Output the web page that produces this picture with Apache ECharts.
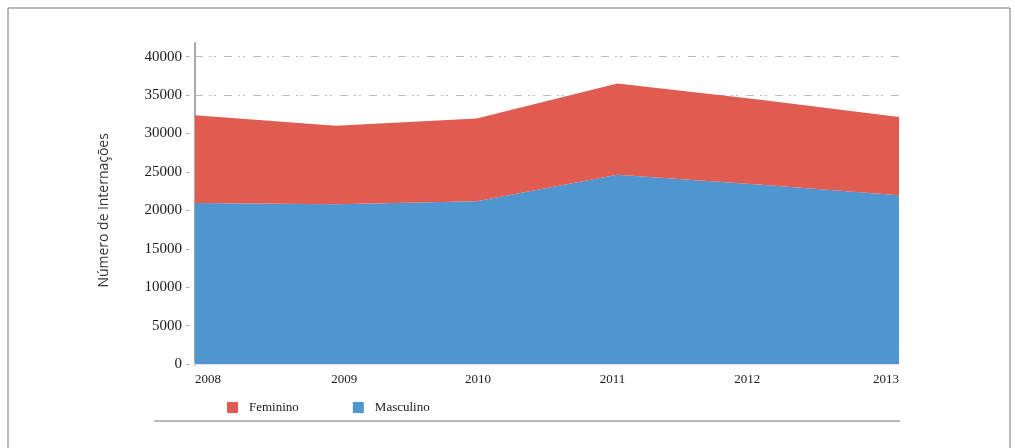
<!DOCTYPE html>
<html>
<head>
<meta charset="utf-8">
<script src="https://cdn.jsdelivr.net/npm/echarts@6/dist/echarts.min.js"></script>
<style>
  html, body { margin: 0; padding: 0; background: #fff; }
  #chart { width: 1015px; height: 448px; }
</style>
</head>
<body>
<div id="chart"></div>
<script>
// Hospital admissions by sex, 2008–2013
const years = ['2008', '2009', '2010', '2011', '2012', '2013'];
const masculino = [20950, 20780, 21170, 24650, 23350, 21960];
const feminino = [11440, 10220, 10780, 11870, 11080, 10200];
const yTicks = { min: 0, max: 40000, interval: 5000 };

const RED = '#e05b50';
const BLUE = '#4f95d0';
const serif = '"Liberation Serif", "DejaVu Serif", serif';

// spread the year labels a little so they sit evenly between the plot edges
const labelShift = { '2009': [0, 0, 0, 17], '2010': [0, 0, 0, 3], '2011': [0, 10, 0, 0], '2012': [0, 22, 0, 0] };
const rich = {};
years.forEach(y => { rich['y' + y] = { padding: labelShift[y] || [0, 0, 0, 0], fontFamily: serif, fontSize: 13, color: '#1a1a1a' }; });

const chart = echarts.init(document.getElementById('chart'), null, { renderer: 'canvas' });
chart.setOption({
  animation: false,
  backgroundColor: '#fff',
  grid: [
    { left: 195, right: 116, top: 56.7, bottom: 84 },
    { left: 195, right: 116, top: 43, bottom: 83 }
  ],
  legend: {
    left: 227, top: 401, padding: 0,
    itemWidth: 11, itemHeight: 11, itemGap: 54,
    icon: 'rect',
    data: ['Feminino', 'Masculino'],
    textStyle: { fontFamily: serif, fontSize: 13, color: '#1a1a1a', padding: [0, 0, 0, 6] }
  },
  xAxis: [
    {
      type: 'category', gridIndex: 0, data: years, boundaryGap: false,
      axisLine: { show: true, lineStyle: { color: '#e2e2e2', width: 2 } },
      axisTick: { show: false },
      splitLine: { show: false },
      axisLabel: {
        margin: 9, alignMinLabel: 'left', alignMaxLabel: 'right',
        fontFamily: serif, fontSize: 13, color: '#1a1a1a',
        formatter: v => '{y' + v + '|' + v + '}', rich: rich
      }
    },
    { type: 'category', gridIndex: 1, data: years, show: false }
  ],
  yAxis: [
    {
      type: 'value', gridIndex: 0, min: yTicks.min, max: yTicks.max, interval: yTicks.interval,
      name: 'Número de internações', nameLocation: 'middle', nameGap: 84,
      nameTextStyle: { fontFamily: '"Open Sans", "Noto Sans", sans-serif', fontSize: 14, color: '#333' },
      axisLine: { show: false },
      axisTick: { show: true, length: 9, lineStyle: { color: '#aaa', width: 1, type: [0, 6, 3, 20] } },
      axisLabel: { margin: 13, fontFamily: serif, fontSize: 15, color: '#1a1a1a', formatter: v => String(v) },
      splitLine: { show: true, showMinLine: false, lineStyle: { color: '#bbb', width: 1, type: [8, 6, 2, 3, 2, 8] } }
    },
    {
      type: 'value', gridIndex: 1, min: 0, max: 1,
      axisLine: { show: true, lineStyle: { color: '#a8a8a8', width: 2 } },
      axisTick: { show: false }, axisLabel: { show: false }, splitLine: { show: false }
    }
  ],
  graphic: [
    { type: 'line', shape: { x1: 8, y1: 8, x2: 1010, y2: 8 }, style: { stroke: '#777', lineWidth: 1 } },
    { type: 'line', shape: { x1: 8, y1: 8, x2: 8, y2: 448 }, style: { stroke: '#777', lineWidth: 1 } },
    { type: 'line', shape: { x1: 1010, y1: 8, x2: 1010, y2: 448 }, style: { stroke: '#777', lineWidth: 1 } },
    { type: 'line', shape: { x1: 154, y1: 421, x2: 900, y2: 421 }, style: { stroke: '#bbb', lineWidth: 2 } }
  ],
  series: [
    {
      name: 'Masculino', type: 'line', stack: 'total', data: masculino,
      xAxisIndex: 0, yAxisIndex: 0,
      symbol: 'none', lineStyle: { width: 0 },
      itemStyle: { color: BLUE }, areaStyle: { color: BLUE, opacity: 1 }, z: 2
    },
    {
      name: 'Feminino', type: 'line', stack: 'total', data: feminino,
      xAxisIndex: 0, yAxisIndex: 0,
      symbol: 'none', lineStyle: { width: 0 },
      itemStyle: { color: RED }, areaStyle: { color: RED, opacity: 1 }, z: 2
    }
  ]
});
</script>
</body>
</html>
